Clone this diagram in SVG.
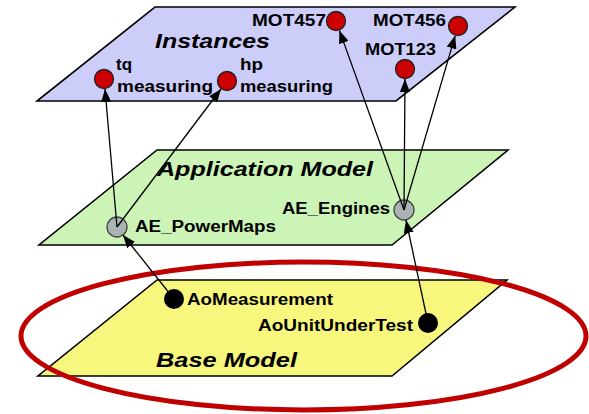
<svg xmlns="http://www.w3.org/2000/svg" width="589" height="414" viewBox="0 0 589 414">
<style>
.plane{stroke:#000;stroke-width:1.6;stroke-linejoin:miter}
.title{font-family:"Liberation Sans",Arial,sans-serif;font-weight:bold;font-style:italic;font-size:21px;fill:#000}
.lbl{font-family:"Liberation Sans",Arial,sans-serif;font-weight:bold;font-size:16px;fill:#000}
.inst{fill:#cc0000;stroke:#222;stroke-width:1.3}
.ent{fill:#aab4b4;stroke:#444;stroke-width:1.3}
.base{fill:#000}
.conn{stroke:#000;stroke-width:1.3;fill:none;marker-end:url(#arr)}
</style>
<defs>
<marker id="arr" markerUnits="userSpaceOnUse" markerWidth="13" markerHeight="10" viewBox="0 0 13 10" refX="13" refY="5" orient="auto">
<path d="M0,0 L13,5 L0,10 Z" fill="#000"/>
</marker>
</defs>
<rect width="589" height="414" fill="#fff"/>
<g id="plane-instances">
<polygon class="plane" points="155,7 515,7 396,101 37,101" fill="#cdcdfa"/>
<text class="title" x="155" y="48" textLength="115" lengthAdjust="spacingAndGlyphs">Instances</text>
</g>
<g id="plane-application">
<polygon class="plane" points="157,150 508,150 392,245 39,245" fill="#ccf4b6"/>
<text class="title" x="157" y="176" textLength="216" lengthAdjust="spacingAndGlyphs">Application Model</text>
</g>
<g id="plane-base">
<polygon class="plane" points="157,280 507,280 392,376 38,376" fill="#f7f77e"/>
<text class="title" x="156" y="367" textLength="141" lengthAdjust="spacingAndGlyphs">Base Model</text>
</g>
<g id="highlight">
<ellipse cx="303.5" cy="336" rx="282.5" ry="74" fill="none" stroke="#c00000" stroke-width="5"/>
</g>
<g id="node-tq">
<circle class="inst" cx="104" cy="79" r="9.5"/>
<text class="lbl" x="116" y="70" textLength="16" lengthAdjust="spacingAndGlyphs">tq</text>
<text class="lbl" x="117" y="92" textLength="96" lengthAdjust="spacingAndGlyphs">measuring</text>
</g>
<g id="node-hp">
<circle class="inst" cx="227" cy="81" r="9.5"/>
<text class="lbl" x="240" y="70" textLength="23" lengthAdjust="spacingAndGlyphs">hp</text>
<text class="lbl" x="240" y="92" textLength="93" lengthAdjust="spacingAndGlyphs">measuring</text>
</g>
<g id="node-mot457">
<circle class="inst" cx="336" cy="21" r="9.5"/>
<text class="lbl" x="252" y="26" textLength="74" lengthAdjust="spacingAndGlyphs">MOT457</text>
</g>
<g id="node-mot456">
<circle class="inst" cx="458" cy="26" r="9.5"/>
<text class="lbl" x="373" y="26" textLength="73" lengthAdjust="spacingAndGlyphs">MOT456</text>
</g>
<g id="node-mot123">
<circle class="inst" cx="405" cy="69" r="9.5"/>
<text class="lbl" x="365" y="55" textLength="71" lengthAdjust="spacingAndGlyphs">MOT123</text>
</g>
<g id="node-ae-powermaps">
<circle class="ent" cx="117" cy="227" r="10"/>
<text class="lbl" x="135" y="232" textLength="141" lengthAdjust="spacingAndGlyphs">AE_PowerMaps</text>
</g>
<g id="node-ae-engines">
<circle class="ent" cx="404" cy="210" r="10"/>
<text class="lbl" x="282" y="214" textLength="108" lengthAdjust="spacingAndGlyphs">AE_Engines</text>
</g>
<g id="node-aomeasurement">
<circle class="base" cx="174" cy="299" r="10"/>
<text class="lbl" x="187" y="305" textLength="146" lengthAdjust="spacingAndGlyphs">AoMeasurement</text>
</g>
<g id="node-aounitundertest">
<circle class="base" cx="428" cy="323" r="10"/>
<text class="lbl" x="258" y="331" textLength="155" lengthAdjust="spacingAndGlyphs">AoUnitUnderTest</text>
</g>
<g id="connectors">
<line class="conn" x1="174" y1="299" x2="123" y2="235"/>
<line class="conn" x1="428" y1="323" x2="406" y2="220"/>
<line class="conn" x1="117" y1="227" x2="105" y2="89"/>
<line class="conn" x1="117" y1="227" x2="221" y2="89"/>
<line class="conn" x1="404" y1="210" x2="339.4" y2="30.4"/>
<line class="conn" x1="404" y1="210" x2="405" y2="79"/>
<line class="conn" x1="404" y1="210" x2="455.2" y2="35.6"/>
</g>
</svg>
